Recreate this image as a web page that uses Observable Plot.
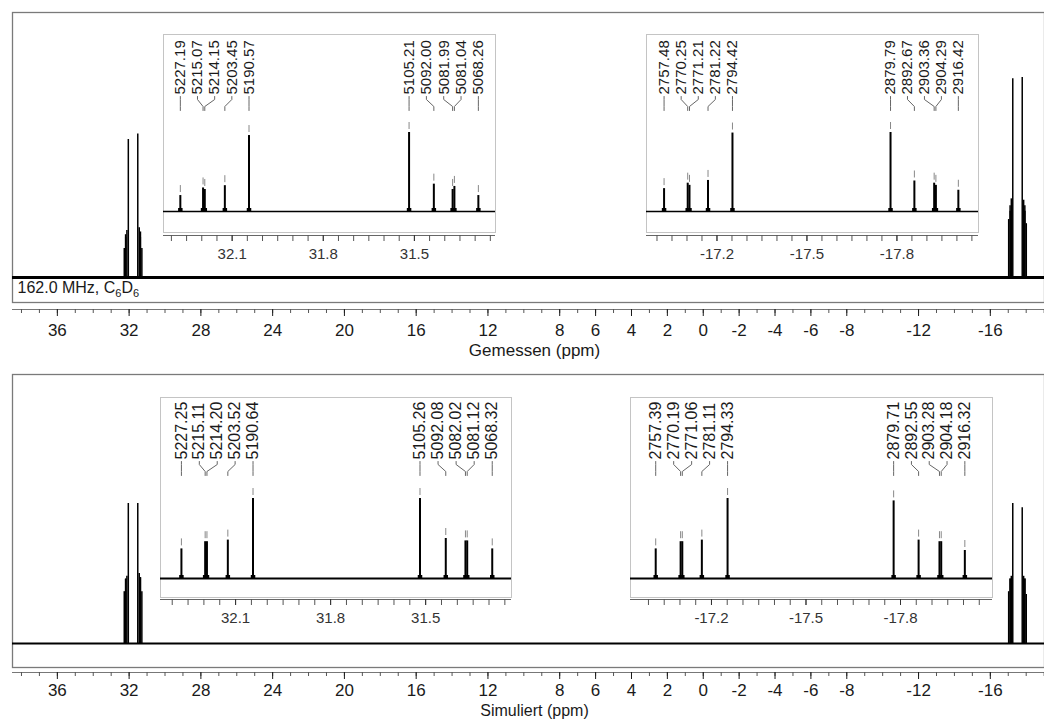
<!DOCTYPE html>
<html><head><meta charset="utf-8">
<script src="https://cdn.jsdelivr.net/npm/d3@7"></script>
<script src="https://cdn.jsdelivr.net/npm/@observablehq/plot@0.6"></script>
<style>
body{margin:0;background:#fff;}
#root{position:relative;width:1044px;height:720px;overflow:hidden;background:#fff;}
#root svg{position:absolute;overflow:visible;}
</style></head><body><div id="root"></div>
<script>
const SF = 161.98; // spectrometer frequency (MHz)
// measured spectrum (Hz labels, relative intensities)
const measHzA = [5227.19, 5215.07, 5214.15, 5203.45, 5190.57, 5105.21, 5092.00, 5081.99, 5081.04, 5068.26];
const measIntA = [21, 31, 29, 34, 100, 104, 36, 29, 33, 21];
const measHzB = [2757.48, 2770.25, 2771.21, 2781.22, 2794.42, 2879.79, 2892.67, 2903.36, 2904.29, 2916.42];
const measIntB = [42, 52, 48, 57, 144, 145, 56, 52, 48, 39];
// simulated spectrum
const simHzA = [5227.25, 5215.11, 5214.20, 5203.52, 5190.64, 5105.26, 5092.08, 5082.02, 5081.12, 5068.32];
const simIntA = [37, 46, 46, 48, 100, 100, 50, 47, 47, 37];
const simHzB = [2757.39, 2770.19, 2771.06, 2781.11, 2794.33, 2879.71, 2892.55, 2903.28, 2904.18, 2916.32];
const simIntB = [37, 46, 46, 48, 100, 97, 48, 46, 46, 35];
// axis labels
const mainTickLabels = [36, 32, 28, 24, 20, 16, 12, 8, 6, 4, 2, 0, -2, -4, -6, -8, -12, -16];
const insetTickLabelsA = [32.1, 31.8, 31.5];
const insetTickLabelsB = [-17.2, -17.5, -17.8];
const titleTop = "Gemessen (ppm)";
const titleBottom = "Simuliert (ppm)";
const noteTop = "162.0 MHz, C6D6";

const mainXDomain = [38.5, -19.02];
const FONT = '"Liberation Sans", Arial, Helvetica, sans-serif';
const root = document.getElementById("root");

function toPeaks(hz, ints, sign) {
  return hz.map((h, i) => ({hz: h, ppm: sign * h / SF, int: ints[i], id: i}));
}
function place(svg, left, top) {
  svg.style.position = "absolute";
  svg.style.left = left + "px";
  svg.style.top = top + "px";
  root.appendChild(svg);
}

function mainPanel(o) {
  const plotBottom = o.height - o.marginBottom;
  const k = o.pxPerUnit;
  const lo = -(plotBottom - o.baseline) / k;
  const hi = (o.baseline - 12) / k;
  const marks = [
    Plot.frame({insetBottom: o.frameGap, stroke: "#7a7a7a", strokeWidth: 1.3}),
    Plot.ruleY([lo], {stroke: "#777"}),
    Plot.axisX({ticks: d3.range(38, -20, -1), tickSize: 4, tickFormat: () => "", color: "#555", label: null}),
    Plot.axisX({ticks: mainTickLabels, tickSize: 7, tickPadding: o.tickPad, tickFormat: d => String(d), fontSize: 17, color: "#1a1a1a", label: null}),
    Plot.ruleY([0], {strokeWidth: o.baseW, stroke: "#000"}),
    Plot.ruleX(o.peaks, {x: "ppm", y1: 0, y2: "int", strokeWidth: 1.5, stroke: "#000"}),
    Plot.text([o.title], {frameAnchor: "bottom", dy: o.titleDy, dx: 6, fontSize: o.titleSize, fill: "#1a1a1a"})
  ];
  if (o.note) marks.push(Plot.text([o.note], {frameAnchor: "bottom-left", dx: 5, dy: -(plotBottom - o.noteY), textAnchor: "start", fontSize: 16, fill: "#1a1a1a"}));
  const svg = Plot.plot({
    width: 1044, height: o.height, marginTop: 12, marginLeft: 12, marginRight: 0, marginBottom: o.marginBottom,
    style: {fontFamily: FONT, background: "transparent", overflow: "visible"},
    x: {domain: mainXDomain, label: null}, y: {domain: [lo, hi], axis: null}, marks
  });
  if (o.note) {
    svg.querySelectorAll("text").forEach(t => {
      if (t.textContent === o.note) {
        const parts = [["162.0 MHz, C", 0, 16], ["6", 4, 11], ["D", -4, 16], ["6", 4, 11]];
        t.textContent = "";
        for (const [s, dy, fs] of parts) {
          const ts = document.createElementNS("http://www.w3.org/2000/svg", "tspan");
          ts.setAttribute("dy", dy); ts.setAttribute("font-size", fs); ts.textContent = s;
          t.appendChild(ts);
        }
      }
    });
  }
  place(svg, 0, o.top);
}

function insetPanel(o) {
  const peaks = o.peaks;
  const M = d3.max(peaks, d => d.int);
  const k = o.tallPx / M;
  const yAt = py => (o.baseline - py) / k;
  const lo = yAt(o.ruler), hi = yAt(o.boxTop);
  const labels = [];
  for (const g of [0, 5]) {
    const a = peaks[g].ppm, b = peaks[g + 4].ppm;
    for (let i = 0; i < 5; i++) labels.push({...peaks[g + i], lx: a + (b - a) * i / 4});
  }
  const lb = o.labelBottom;
  const conn = labels.flatMap(d => [
    {id: d.id, x: d.lx, y: yAt(lb + 2)},
    {id: d.id, x: d.lx, y: yAt(lb + 5)},
    {id: d.id, x: d.ppm, y: yAt(lb + 12)},
    {id: d.id, x: d.ppm, y: yAt(lb + 16)}
  ]);
  const svg = Plot.plot({
    width: o.boxRight - o.boxLeft + 2, height: o.ruler - o.boxTop + 1 + 30,
    marginLeft: 1, marginRight: 1, marginTop: 1, marginBottom: 30,
    style: {fontFamily: FONT, background: "transparent", overflow: "visible"},
    x: {domain: o.xDomain, label: null}, y: {domain: [lo, hi], axis: null},
    marks: [
      Plot.frame({insetBottom: o.ruler - o.boxBottom, fill: "white", stroke: "#c4c4c4"}),
      Plot.ruleY([lo], {stroke: "#666"}),
      Plot.axisX({ticks: o.minorTicks, tickSize: 6, tickFormat: () => "", color: "#555", label: null}),
      Plot.axisX({ticks: o.tickLabels, tickSize: 6, tickPadding: 7, tickFormat: d => d.toFixed(1), fontSize: 15, color: "#333", label: null}),
      Plot.ruleY([0], {strokeWidth: o.baseW, stroke: "#000"}),
      Plot.ruleX(peaks, {x: "ppm", y1: 0, y2: "int", strokeWidth: o.peakW, stroke: "#000"}),
      Plot.ruleX(peaks, {x: "ppm", y1: 0, y2: 3 / k, strokeWidth: 4.5, stroke: "#000"}),
      Plot.ruleX(peaks, {x: "ppm", y1: d => d.int + 3 / k, y2: d => d.int + 10 / k, stroke: "#888"}),
      Plot.line(conn, {x: "x", y: "y", z: "id", stroke: "#666", strokeWidth: 1}),
      Plot.text(labels, {x: "lx", y: yAt(lb), text: d => d.hz.toFixed(2), rotate: -90, textAnchor: "start", fontSize: o.labelFont, fill: "#1a1a1a"})
    ]
  });
  place(svg, o.boxLeft - 1, o.boxTop - 1);
}

const measA = toPeaks(measHzA, measIntA, 1), measB = toPeaks(measHzB, measIntB, -1);
const simA = toPeaks(simHzA, simIntA, 1), simB = toPeaks(simHzB, simIntB, -1);

mainPanel({top: 0, height: 370, marginBottom: 61, frameGap: 7, baseline: 277, pxPerUnit: 1.38, tickPad: 7,
  peaks: measA.concat(measB), baseW: 2.8, title: titleTop, titleDy: 46, titleSize: 17, note: noteTop, noteY: 292});
mainPanel({top: 362, height: 358, marginBottom: 48, frameGap: 5, baseline: 281, pxPerUnit: 1.40, tickPad: 4,
  peaks: simA.concat(simB), baseW: 2.2, title: titleBottom, titleDy: 43, titleSize: 16});

const ticksA = d3.range(32.30, 31.24, -0.05);
const ticksB = d3.range(-17.0, -18.06, -0.05);

insetPanel({peaks: measA, boxLeft: 163, boxRight: 495, boxTop: 34, boxBottom: 232, ruler: 235, baseline: 211, tallPx: 79,
  xDomain: [32.326, 31.233], tickLabels: insetTickLabelsA, minorTicks: ticksA, labelBottom: 94, labelFont: 15, baseW: 1.6, peakW: 2});
insetPanel({peaks: measB, boxLeft: 646, boxRight: 978, boxTop: 34, boxBottom: 232, ruler: 235, baseline: 211, tallPx: 79,
  xDomain: [-16.965, -18.072], tickLabels: insetTickLabelsB, minorTicks: ticksB, labelBottom: 94, labelFont: 15, baseW: 1.6, peakW: 2});
insetPanel({peaks: simA, boxLeft: 160, boxRight: 511, boxTop: 397, boxBottom: 597, ruler: 599, baseline: 578, tallPx: 80,
  xDomain: [32.337, 31.229], tickLabels: insetTickLabelsA, minorTicks: ticksA, labelBottom: 459, labelFont: 16, baseW: 2, peakW: 2});
insetPanel({peaks: simB, boxLeft: 630, boxRight: 992, boxTop: 397, boxBottom: 597, ruler: 599, baseline: 578, tallPx: 80,
  xDomain: [-16.943, -18.092], tickLabels: insetTickLabelsB, minorTicks: ticksB, labelBottom: 459, labelFont: 16, baseW: 2, peakW: 2});
</script>
</body></html>
